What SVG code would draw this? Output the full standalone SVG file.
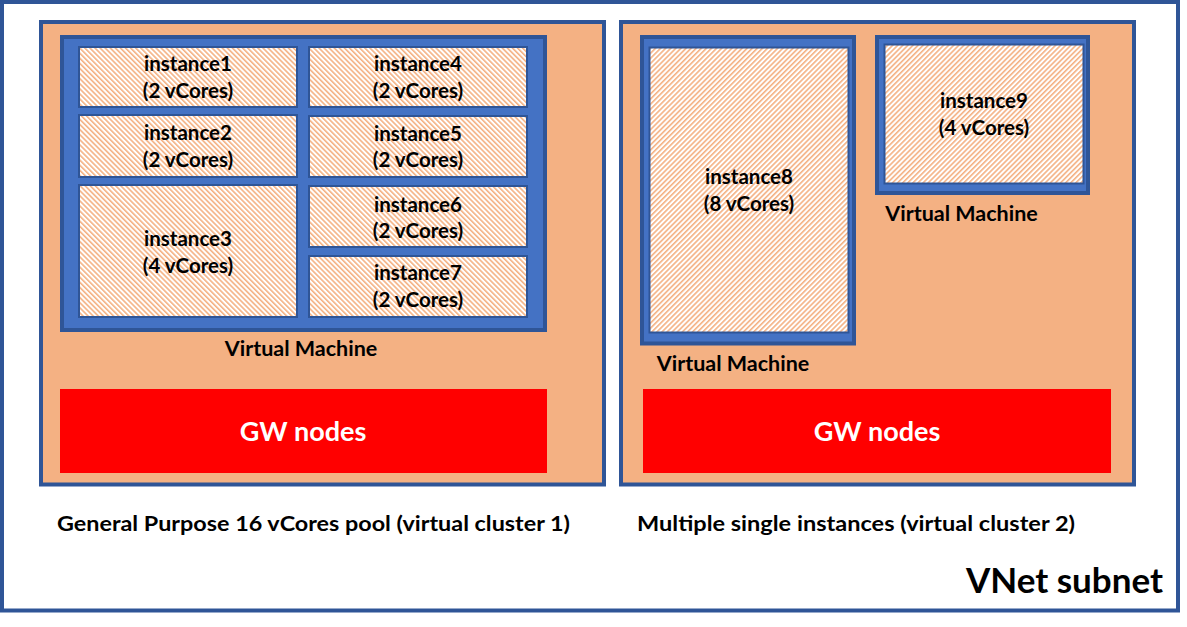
<svg xmlns="http://www.w3.org/2000/svg" width="1187" height="627" viewBox="0 0 1187 627">
  <defs>
    <!-- diagonal hatch fills for the instance boxes -->
    <pattern id="hatchDown" width="3.6" height="3.6" patternUnits="userSpaceOnUse" patternTransform="rotate(-45)">
      <rect width="3.6" height="3.6" fill="#ffffff"/>
      <rect width="1.6" height="3.6" fill="#F4B183"/>
    </pattern>
    <pattern id="hatchUp" width="3.6" height="3.6" patternUnits="userSpaceOnUse" patternTransform="rotate(45)">
      <rect width="3.6" height="3.6" fill="#ffffff"/>
      <rect width="1.6" height="3.6" fill="#F4B183"/>
    </pattern>
    <style>
      text { font-family: Lato, "Liberation Sans", sans-serif; font-weight: bold; fill: #000; }
      .lbl { font-size: 20.5px; text-anchor: middle; }
      .vml { font-size: 21.5px; text-anchor: middle; }
      .cap { font-size: 20.5px; }
      .gw { font-size: 27px; fill: #fff; text-anchor: middle; }
      .subnet { fill: #fff; stroke: #2F5597; stroke-width: 4; }
      .cluster { fill: #F4B183; stroke: #2F5597; stroke-width: 4; }
      .vm { fill: #4472C4; stroke: #2F5597; stroke-width: 4; }
      .inst1 { fill: url(#hatchDown); stroke: #2F5597; stroke-width: 2; }
      .inst2 { fill: url(#hatchUp); stroke: #2F5597; stroke-width: 2; }
      .gwbox { fill: #FF0000; }
    </style>
  </defs>

  <!-- VNet subnet -->
  <g id="vnet">
    <rect class="subnet" x="2" y="2" width="1176" height="608.5"/>
    <text x="1163" y="593" style="font-size:35px" text-anchor="end">VNet subnet</text>
  </g>

  <!-- virtual cluster 1 -->
  <g id="cluster1">
    <rect class="cluster" x="41" y="22" width="563" height="462.5"/>
    <text class="cap" x="57" y="531" textLength="513" lengthAdjust="spacingAndGlyphs">General Purpose 16 vCores pool (virtual cluster 1)</text>
  </g>
  <g id="vm1">
    <rect class="vm" x="62" y="37" width="483" height="293"/>
    <text class="vml" x="301" y="356">Virtual Machine</text>
  </g>
  <g id="instance1">
    <rect class="inst1" x="79" y="47" width="218" height="60"/>
    <text class="lbl" x="188" y="71">instance1</text>
    <text class="lbl" x="188" y="97.5">(2 vCores)</text>
  </g>
  <g id="instance2">
    <rect class="inst1" x="79" y="115" width="218" height="62"/>
    <text class="lbl" x="188" y="140">instance2</text>
    <text class="lbl" x="188" y="166.5">(2 vCores)</text>
  </g>
  <g id="instance3">
    <rect class="inst1" x="79" y="185" width="218" height="132"/>
    <text class="lbl" x="188" y="246">instance3</text>
    <text class="lbl" x="188" y="272.5">(4 vCores)</text>
  </g>
  <g id="instance4">
    <rect class="inst1" x="309" y="47" width="218" height="60"/>
    <text class="lbl" x="418" y="71">instance4</text>
    <text class="lbl" x="418" y="97.5">(2 vCores)</text>
  </g>
  <g id="instance5">
    <rect class="inst1" x="309" y="116" width="218" height="61"/>
    <text class="lbl" x="418" y="140.5">instance5</text>
    <text class="lbl" x="418" y="167">(2 vCores)</text>
  </g>
  <g id="instance6">
    <rect class="inst1" x="309" y="186" width="218" height="61"/>
    <text class="lbl" x="418" y="211.5">instance6</text>
    <text class="lbl" x="418" y="238">(2 vCores)</text>
  </g>
  <g id="instance7">
    <rect class="inst1" x="309" y="256" width="218" height="61"/>
    <text class="lbl" x="418" y="280">instance7</text>
    <text class="lbl" x="418" y="306.5">(2 vCores)</text>
  </g>
  <g id="gw1">
    <rect class="gwbox" x="60" y="389" width="487" height="84"/>
    <text class="gw" x="303" y="441">GW nodes</text>
  </g>

  <!-- virtual cluster 2 -->
  <g id="cluster2">
    <rect class="cluster" x="621" y="22" width="513" height="462.5"/>
    <text class="cap" x="637" y="531" textLength="438" lengthAdjust="spacingAndGlyphs">Multiple single instances (virtual cluster 2)</text>
  </g>
  <g id="vm2">
    <rect class="vm" x="642" y="37" width="212" height="306.5"/>
    <text class="vml" x="733" y="371">Virtual Machine</text>
  </g>
  <g id="instance8">
    <rect class="inst2" x="649.5" y="47.5" width="199" height="285"/>
    <text class="lbl" x="749" y="184">instance8</text>
    <text class="lbl" x="749" y="210.5">(8 vCores)</text>
  </g>
  <g id="vm3">
    <rect class="vm" x="877" y="37" width="211" height="156"/>
    <text class="vml" x="961.5" y="220.5">Virtual Machine</text>
  </g>
  <g id="instance9">
    <rect class="inst2" x="884.5" y="44.5" width="199" height="139"/>
    <text class="lbl" x="984" y="108">instance9</text>
    <text class="lbl" x="984" y="134.5">(4 vCores)</text>
  </g>
  <g id="gw2">
    <rect class="gwbox" x="643" y="389" width="468" height="84"/>
    <text class="gw" x="877" y="441">GW nodes</text>
  </g>

  <!-- no connectors in this diagram -->
  <g id="connectors"/>
</svg>
